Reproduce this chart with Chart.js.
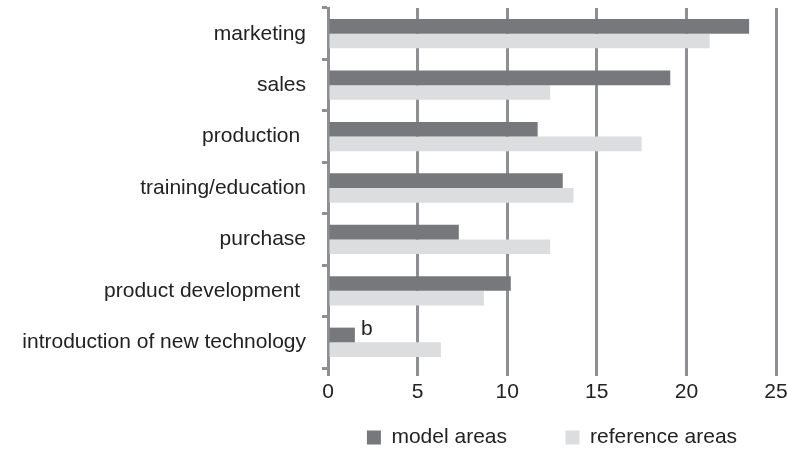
<!DOCTYPE html>
<html>
<head>
<meta charset="utf-8">
<script src="https://cdn.jsdelivr.net/npm/chart.js@4"></script>
<style>
  html, body { margin: 0; padding: 0; background: #fff; }
  #wrap { width: 787px; height: 452px; }
</style>
</head>
<body>
<div id="wrap"><canvas id="chart" width="787" height="452"></canvas></div>
<script>
const categories = ['marketing', 'sales', 'production ', 'training/education', 'purchase', 'product development ', 'introduction of new technology'];
const modelAreas = [23.5, 19.1, 11.7, 13.1, 7.3, 10.2, 1.5];
const referenceAreas = [21.3, 12.4, 17.5, 13.7, 12.4, 8.7, 6.3];
const xTicks = [0, 5, 10, 15, 20, 25];
const seriesNames = ['model areas', 'reference areas'];
const annotations = { 6: 'b' };

const gridColor = '#8e8f92';
const fontFamily = '"Liberation Sans", Arial, sans-serif';

// small plugin to put the "b" note next to the model bar
const noteLabel = {
    id: 'noteLabel',
    afterDatasetsDraw(chart) {
        const ctx = chart.ctx;
        const meta = chart.getDatasetMeta(0);
        ctx.save();
        ctx.fillStyle = '#222';
        ctx.font = '21px ' + fontFamily;
        ctx.textBaseline = 'alphabetic';
        Object.keys(annotations).forEach(i => {
            const bar = meta.data[i];
            ctx.fillText(annotations[i], bar.x + 6, bar.y);
        });
        ctx.restore();
    }
};

new Chart(document.getElementById('chart'), {
    type: 'bar',
    data: {
        labels: categories,
        datasets: [{
            label: seriesNames[0],
            data: modelAreas,
            backgroundColor: '#77787b',
            barPercentage: 1,
            categoryPercentage: 0.57
        }, {
            label: seriesNames[1],
            data: referenceAreas,
            backgroundColor: '#dcdddf',
            barPercentage: 1,
            categoryPercentage: 0.57
        }]
    },
    options: {
        indexAxis: 'y',
        responsive: false,
        animation: false,
        layout: { autoPadding: false, padding: { top: 8, right: 11, left: 0, bottom: -6 } },
        scales: {
            x: {
                min: 0,
                max: 25,
                afterBuildTicks: scale => { scale.ticks = xTicks.map(v => ({ value: v })); },
                afterFit: scale => {
                    scale.height = 53;
                    scale.paddingLeft = 0;
                    scale.paddingRight = 0;
                },
                grid: { color: gridColor, lineWidth: 3, tickLength: 8, drawTicks: true },
                border: { display: false },
                ticks: { color: '#222', padding: 4, font: { size: 21, family: fontFamily } }
            },
            y: {
                grid: { drawOnChartArea: false, color: gridColor, lineWidth: 3, tickLength: 6, offset: true },
                border: { color: gridColor, width: 3 },
                afterFit: scale => {
                    scale.width = 328;
                    scale.paddingTop = 0;
                    scale.paddingBottom = 0;
                },
                ticks: { color: '#222', padding: 16, font: { size: 21, family: fontFamily } }
            }
        },
        plugins: {
            legend: {
                position: 'bottom',
                fullSize: false,
                labels: {
                    color: '#222',
                    boxWidth: 14,
                    boxHeight: 14,
                    padding: 6,
                    font: { size: 21, family: fontFamily },
                    generateLabels: chart => {
                        const items = Chart.defaults.plugins.legend.labels.generateLabels(chart);
                        items[0].text = items[0].text + '         ';
                        return items;
                    }
                }
            },
            tooltip: { enabled: false }
        }
    },
    plugins: [noteLabel]
});
</script>
</body>
</html>
